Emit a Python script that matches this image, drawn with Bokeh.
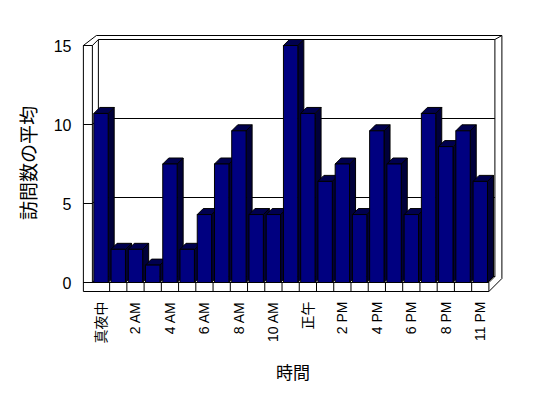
import math
from bokeh.plotting import figure
from bokeh.models import ColumnDataSource, FixedTicker, Range1d
from bokeh.embed import file_html
from bokeh.resources import INLINE

# ---------------- data ----------------
hours = ["真夜中", "1 AM", "2 AM", "3 AM", "4 AM", "5 AM", "6 AM", "7 AM", "8 AM",
         "9 AM", "10 AM", "11 AM", "正午", "1 PM", "2 PM", "3 PM", "4 PM", "5 PM",
         "6 PM", "7 PM", "8 PM", "9 PM", "11 PM"]
visits = [10.7, 2.1, 2.1, 1.1, 7.5, 2.1, 4.3, 7.5, 9.6, 4.3, 4.3, 15.0,
          10.7, 6.4, 7.5, 4.3, 9.6, 7.5, 4.3, 10.7, 8.6, 9.6, 6.4]
y_ticks = [0, 5, 10, 15]
x_tick_idx = list(range(0, len(hours), 2))
y_title = "訪問数の平均"
x_title = "時間"

# ---------------- style / geometry ----------------
N = len(hours)
XU = 17.24   # px per category
YU = 15.8    # px per value unit
W = 0.835    # bar front width (category units)
DX = 6.0 / XU   # depth offset
DY = 6.0 / YU
TW = 9.0 / XU   # wall thickness
TF = 9.0 / YU   # floor thickness
VMAX = y_ticks[-1]

NAVY = "#000080"
SIDE = "#00003a"
TOP = "#00004e"
FONT = "Liberation Sans, Noto Sans CJK JP"
CJK = "Noto Sans CJK JP"

x_start = (80 - 100.5) / XU
x_end = (505 - 100.5) / XU
y_start = -11.0 / YU
y_end = 250.0 / YU

p = figure(frame_width=425, frame_height=261,
           min_border_left=80, min_border_top=32, min_border_right=20, min_border_bottom=80,
           x_range=Range1d(x_start, x_end), y_range=Range1d(y_start, y_end),
           output_backend="svg", toolbar_location=None)
p.outline_line_color = None
p.xgrid.visible = False
p.ygrid.visible = False
p.background_fill_color = "white"
p.border_fill_color = "white"

# ---------------- chart box ----------------
AXL = -0.5
AXR = N - 0.5
xo_left = AXL - TW
x_ibl = AXL + DX
x_ibr = AXR + DX
x_out_r = x_ibr + 7.0 / XU
y_ibt = VMAX + DY
y_out_t = y_ibt + 4.0 / YU
y_fb = -TF
x_otl = xo_left + 13.0 / XU
y_orb = y_fb + 13.0 / YU

p.patch([xo_left, xo_left, x_otl, x_out_r, x_out_r, AXR],
        [y_fb, VMAX, y_out_t, y_out_t, y_orb, y_fb],
        fill_color="white", line_color="black", line_width=1)

xs, ys = [], []
def seg(x0, y0, x1, y1):
    xs.append([x0, x1]); ys.append([y0, y1])

seg(xo_left, VMAX, AXL, VMAX)
seg(AXL, VMAX, AXL, 0)
seg(AXL, VMAX, x_ibl, y_ibt)
seg(x_ibl, y_ibt, x_ibr, y_ibt)
seg(x_ibl, y_ibt, x_ibl, DY)
seg(AXL, 0, x_ibl, DY)
seg(x_ibl, DY, x_ibr, DY)
seg(x_ibr, y_ibt, x_ibr, DY)
seg(x_ibr, y_ibt, x_out_r, y_out_t)
seg(xo_left, 0, AXR, 0)
seg(AXR, 0, AXR, y_fb)
seg(AXR, 0, x_ibr, DY)
for k in range(N - 1):
    seg(k + 0.5, 0, k + 0.5, y_fb)
for v in y_ticks[1:-1]:
    seg(x_ibl, v + DY, x_ibr, v + DY)
    seg(AXL, v, x_ibl, v + DY)
for v in y_ticks:
    seg(xo_left, v, AXL, v)
p.multi_line(xs, ys, line_color="black", line_width=1)

# ---------------- bars ----------------
idx = list(range(N))
lefts = [i - W / 2 for i in idx]
rights = [i + W / 2 for i in idx]
side_xs = [[r, r + DX, r + DX, r] for r in rights]
side_ys = [[0, DY, v + DY, v] for v in visits]
top_xs = [[l, r, r + DX, l + DX] for l, r in zip(lefts, rights)]
top_ys = [[v, v, v + DY, v + DY] for v in visits]

p.patches(side_xs, side_ys, fill_color=SIDE, line_color="black", line_width=1)
p.patches(top_xs, top_ys, fill_color=TOP, line_color="black", line_width=1)
src = ColumnDataSource(dict(left=lefts, right=rights, top=visits, bottom=[0] * N))
p.quad(left="left", right="right", top="top", bottom="bottom", source=src,
       fill_color=NAVY, line_color="black", line_width=1)

# ---------------- axes ----------------
xa = p.xaxis[0]
xa.ticker = FixedTicker(ticks=x_tick_idx)
xa.major_label_overrides = {i: hours[i] for i in x_tick_idx}
xa.major_label_orientation = math.pi / 2
xa.axis_line_color = None
xa.major_tick_line_color = None
xa.minor_tick_line_color = None
xa.major_tick_out = 0
xa.major_tick_in = 0
xa.major_label_standoff = 8
xa.major_label_text_font = FONT
xa.major_label_text_font_size = "14px"
xa.major_label_text_color = "black"
xa.axis_label = x_title
xa.axis_label_text_font = CJK
xa.axis_label_text_font_size = "17px"
xa.axis_label_text_font_style = "normal"
xa.axis_label_text_color = "black"
xa.axis_label_standoff = 13

ya = p.yaxis[0]
ya.ticker = FixedTicker(ticks=y_ticks)
ya.axis_line_color = None
ya.major_tick_line_color = None
ya.minor_tick_line_color = None
ya.major_tick_out = 0
ya.major_tick_in = 0
ya.major_label_standoff = 9
ya.major_label_text_font = FONT
ya.major_label_text_font_size = "16px"
ya.major_label_text_color = "black"
ya.axis_label = y_title
ya.axis_label_text_font = CJK
ya.axis_label_text_font_size = "19px"
ya.axis_label_text_font_style = "normal"
ya.axis_label_text_color = "black"
ya.axis_label_standoff = 10

open("out.html", "w").write(file_html(p, INLINE))
